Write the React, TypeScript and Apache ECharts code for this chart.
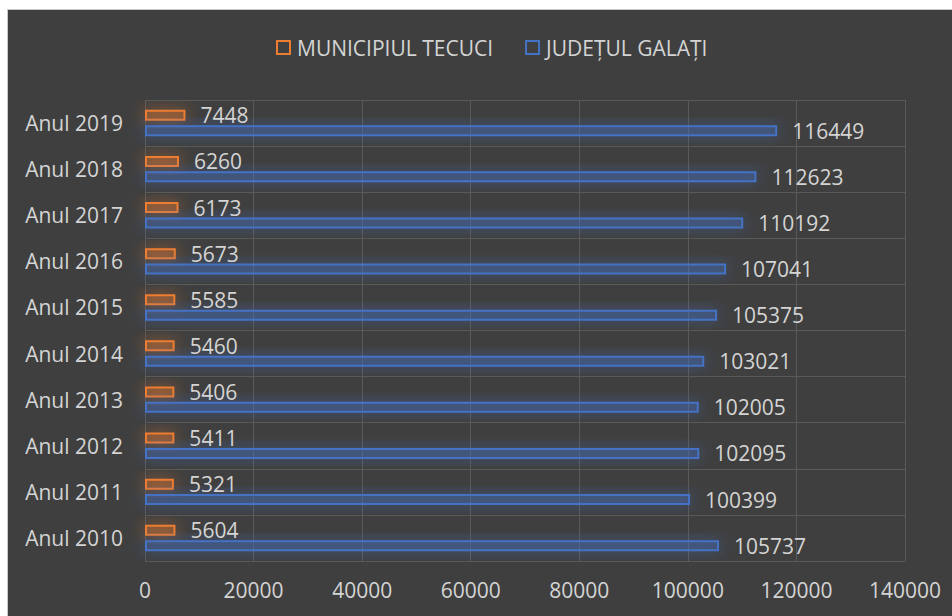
import React, { useEffect, useRef } from "react";
import * as echarts from "echarts";

const categories = ["Anul 2010", "Anul 2011", "Anul 2012", "Anul 2013", "Anul 2014", "Anul 2015", "Anul 2016", "Anul 2017", "Anul 2018", "Anul 2019"];
const tecuci = [5604, 5321, 5411, 5406, 5460, 5585, 5673, 6173, 6260, 7448];
const galati = [105737, 100399, 102095, 102005, 103021, 105375, 107041, 110192, 112623, 116449];
const seriesNames = ["MUNICIPIUL TECUCI", "JUDEȚUL GALAȚI"];

const FONT = "'Open Sans', sans-serif";
const TEXT = "#d4d4d4";
const ORANGE = "#ED7D31";
const BLUE = "#4472C4";

export default function App() {
  const ref = useRef<HTMLDivElement>(null);
  useEffect(() => {
    if (!ref.current) return;
    const chart = echarts.init(ref.current, undefined, { renderer: "svg" });
    const label = {
      show: true,
      position: "right" as const,
      distance: 15,
      color: TEXT,
      fontSize: 21,
      fontFamily: FONT,
    };
    chart.setOption({
      animation: false,
      backgroundColor: "#3f3f3f",
      textStyle: { fontFamily: FONT },
      legend: {
        top: 22,
        left: 263,
        itemWidth: 13,
        itemHeight: 13,
        itemGap: 32,
        textStyle: { color: TEXT, fontSize: 21, fontFamily: FONT, padding: [0, 0, 0, 2] },
        data: [
          { name: seriesNames[0], icon: "rect", itemStyle: { color: "transparent", borderColor: ORANGE, borderWidth: 2 } },
          { name: seriesNames[1], icon: "rect", itemStyle: { color: "transparent", borderColor: BLUE, borderWidth: 2 } },
        ],
      },
      grid: { left: 137, top: 90, right: 47, bottom: 55, containLabel: false },
      xAxis: {
        type: "value",
        min: 0,
        max: 140000,
        interval: 20000,
        axisLine: { show: false },
        axisTick: { show: false },
        axisLabel: { color: TEXT, fontSize: 21, fontFamily: FONT, margin: 18, formatter: (v: number) => String(v) },
        splitLine: { show: true, lineStyle: { color: "#5a5a5a", width: 1 } },
      },
      yAxis: {
        type: "category",
        data: categories,
        axisLine: { show: false },
        axisTick: { show: false },
        axisLabel: { color: TEXT, fontSize: 21, fontFamily: FONT, margin: 22 },
        splitLine: { show: true, lineStyle: { color: "#5a5a5a", width: 1 } },
      },
      series: [
        {
          name: seriesNames[0],
          type: "bar",
          data: tecuci,
          barWidth: 11,
          barGap: "40%",
          itemStyle: {
            color: "rgba(237,125,49,0.3)",
            borderColor: ORANGE,
            borderWidth: 2,
            shadowBlur: 16,
            shadowColor: "rgba(237,125,49,0.8)",
          },
          label,
        },
        {
          name: seriesNames[1],
          type: "bar",
          data: galati,
          barWidth: 11,
          itemStyle: {
            color: "rgba(68,114,196,0.3)",
            borderColor: BLUE,
            borderWidth: 2,
            shadowBlur: 16,
            shadowColor: "rgba(68,114,196,0.8)",
          },
          label,
        },
      ],
    });
    return () => chart.dispose();
  }, []);
  return (
    <div style={{ position: "fixed", left: 0, top: 0, width: 952, height: 616, background: "#ffffff", overflow: "hidden" }}>
      <div style={{ position: "absolute", left: 7, top: 9, width: 945, height: 607, background: "#c8c8c8" }} />
      <div ref={ref} style={{ position: "absolute", left: 8, top: 10, width: 944, height: 606 }} />
    </div>
  );
}
